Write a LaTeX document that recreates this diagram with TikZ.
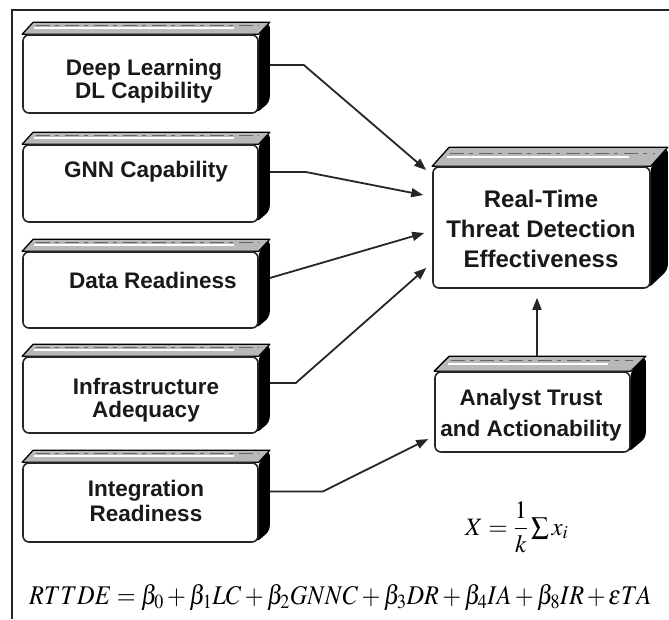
\documentclass[tikz,border=0pt]{standalone}
\usepackage{amsmath}
\usepackage{mathptmx}
\usepackage[no-math]{fontspec}
\newfontfamily\boxfont{Liberation Sans}
\usetikzlibrary{arrows.meta}
\pgfdeclarelayer{background}
\pgfsetlayers{background,main}
\tikzset{
  front/.style={draw=black!85, line width=1.6pt, fill=white, rounded corners=6pt, inner sep=0pt},
  lbl/.style={font=\boxfont\bfseries\fontsize{22.5}{23}\selectfont, align=center, inner sep=0pt, text=black!90},
  biglbl/.style={font=\boxfont\bfseries\fontsize{24}{30}\selectfont, align=center, inner sep=0pt, text=black!90},
  arr/.style={line width=1.8pt, draw=black!85, -{Triangle[length=12pt,width=9pt]}, line join=miter},
  topface/.style={fill=black!28, draw=black, line width=1.3pt, line join=round},
  sideface/.style={fill=black, rounded corners=5pt},
  frame/.style={line width=2pt, draw=black!85},
  eq/.style={inner sep=0pt, font=\fontsize{25}{29}\selectfont},
  bigeq/.style={inner sep=0pt, font=\fontsize{27}{30}\selectfont},
}
\newcommand{\boxfaces}[3]{%
  \begin{pgfonlayer}{background}
    \fill[sideface] (#1.north east) -- ++(#2,-#3) -- ([shift={(#2,-#3)}]#1.south east) -- ([xshift=-3pt]#1.south east) -- cycle;
    \filldraw[topface] (#1.north west) -- ++(#2,-#3) -- ([shift={(#2,-#3)}]#1.north east) -- (#1.north east) -- cycle;
    \draw[white, line width=1.6pt] ([shift={(#2*0.5+6,-#3*0.5)}]#1.north west) -- ([shift={(#2*0.5-30,-#3*0.5)}]#1.north east);
    \draw[black!60, line width=0.8pt, dash pattern=on 14pt off 5pt on 4pt off 6pt] ([shift={(#2*0.7+6,-#3*0.7)}]#1.north west) -- ([shift={(#2*0.7-8,-#3*0.7)}]#1.north east);
  \end{pgfonlayer}}
\begin{document}
\begin{tikzpicture}[x=1pt, y=-1pt]
\useasboundingbox (0,0) rectangle (669,619);
\draw[frame] (12,619) -- (12,10) -- (669,10);

% left boxes
\node[front, minimum width=235pt, minimum height=78pt] (b1) at (140.5,74) {};
\node[front, minimum width=235pt, minimum height=77pt] (b2) at (140.5,183.5) {};
\node[front, minimum width=235pt, minimum height=76pt] (b3) at (140.5,290) {};
\node[front, minimum width=235pt, minimum height=76pt] (b4) at (140.5,395) {};
\node[front, minimum width=235pt, minimum height=79pt] (b5) at (140.5,502.5) {};
\boxfaces{b1}{11}{12}
\boxfaces{b2}{11}{12}
\boxfaces{b3}{11}{12}
\boxfaces{b4}{11}{12}
\boxfaces{b5}{11}{12}

\node[lbl] (t1) at (144,81) {Deep Learning\\DL Capibility};
\node[lbl] (t2) at (146,172) {GNN Capability};
\node[lbl] (t3) at (153,280) {Data Readiness};
\node[lbl] (t4) at (146,400.5) {Infrastructure\\Adequacy};
\node[lbl, font=\boxfont\bfseries\fontsize{22.5}{25}\selectfont] (t5) at (146,501) {Integration\\Readiness};

% target boxes
\node[front, minimum width=217pt, minimum height=121pt] (m) at (541.5,227.5) {};
\boxfaces{m}{17}{19}
\node[biglbl] (tm) at (541,229) {Real-Time\\Threat Detection\\Effectiveness};

\node[front, minimum width=195pt, minimum height=80pt] (a) at (532.5,412) {};
\boxfaces{a}{15}{15}
\node[lbl, font=\boxfont\bfseries\fontsize{22.5}{31}\selectfont] (ta) at (531,415) {Analyst Trust\\and Actionability};

% connectors
\draw[arr] ([shift={(11,-9)}]b1.east) -- ++(34,0) -- ([shift={(-6,-57.5)}]m.west);
\draw[arr] ([shift={(11,-11.5)}]b2.east) -- ++(36,0) -- ([shift={(-9,-32.5)}]m.west);
\draw[arr] ([shift={(11,-12)}]b3.east) -- ([shift={(-8,5.5)}]m.west);
\draw[arr] ([shift={(11,-12)}]b4.east) -- ++(26,0) -- ([shift={(-6,40.5)}]m.west);
\draw[arr] ([shift={(11,-11)}]b5.east) -- ++(53,0) -- ([shift={(-6,27)}]a.west);
\draw[arr] ([shift={(4.5,-15)}]a.north) -- ([shift={(-4.5,9)}]m.south);

% formulas
\node[eq, anchor=base west] (f1) at (465,535) {$X=\dfrac{1}{k}\sum x_i$};
\node[bigeq, anchor=base west] (f2) at (29,604) {\scalebox{0.9}[1]{$RTTDE=\beta_0+\beta_1LC+\beta_2GNNC+\beta_3DR+\beta_4IA+\beta_8IR\,{+}\,\varepsilon TA$}};
\end{tikzpicture}
\end{document}
